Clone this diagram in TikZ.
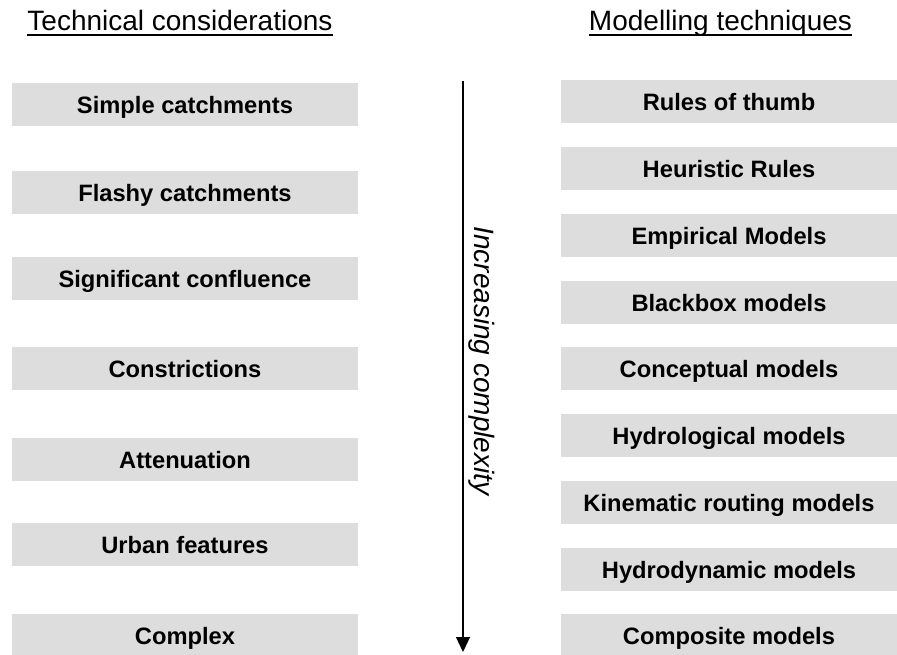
\documentclass[tikz,border=0pt]{standalone}
\usepackage{fontspec}
\setmainfont{Liberation Sans}
\usetikzlibrary{arrows.meta}
\definecolor{boxgray}{RGB}{221,221,221}

\begin{document}
\begin{tikzpicture}[x=1pt,y=-1pt,
  lbox/.style={fill=boxgray,inner sep=0pt,minimum width=346pt,minimum height=43pt,
    text height=17pt,text depth=0pt,font=\fontsize{23.7}{28}\selectfont\bfseries},
  rbox/.style={lbox,minimum width=336pt},
  heading/.style={inner sep=0pt,anchor=base,font=\fontsize{28}{32}\selectfont}]
  \useasboundingbox (0,0) rectangle (897,654);
  % column titles
  \node[heading] (tech) at (180,30) {Technical considerations};
  \node[heading] (model) at (720.5,30) {Modelling techniques};
  \foreach \n in {tech,model}
    \draw[line width=2pt] ([yshift=-4.5pt]\n.base west) -- ([yshift=-4.5pt]\n.base east);
  % left column
  \foreach \y/\name/\txt in {104.5/simple/Simple catchments,192.5/flashy/Flashy catchments,
      278.5/confl/Significant confluence,368.5/constr/Constrictions,459.5/atten/Attenuation,
      544.5/urban/Urban features,635.5/complex/Complex}
    \node[lbox] (\name) at (185,\y) {\txt};
  % right column
  \foreach \y/\name/\txt in {101.5/thumb/Rules of thumb,168.5/heur/Heuristic Rules,
      235.5/empir/Empirical Models,302.5/black/Blackbox models,368.5/concept/Conceptual models,
      435.5/hydrol/Hydrological models,502.5/kinem/Kinematic routing models,
      569.5/hydrod/Hydrodynamic models,635.5/compos/Composite models}
    \node[rbox] (\name) at (729,\y) {\txt};
  % arrow
  \coordinate (start) at (463,81);
  \coordinate (end) at (463,652);
  \draw[line width=1.2pt,-{Triangle[width=14pt,length=15pt]}] (start) -- (end);
  \node[rotate=-90,font=\fontsize{28}{32}\selectfont\itshape] (incr) at (482,361) {Increasing complexity};
\end{tikzpicture}
\end{document}
